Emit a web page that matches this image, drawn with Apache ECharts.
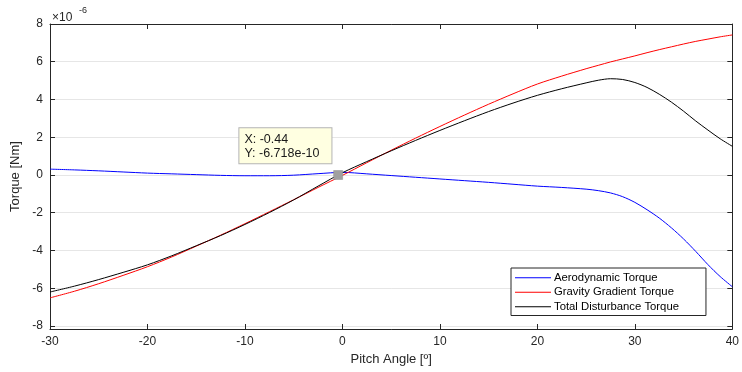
<!DOCTYPE html>
<html><head><meta charset="utf-8">
<script src="https://cdn.jsdelivr.net/npm/echarts@6/dist/echarts.min.js"></script>
<style>html,body{margin:0;padding:0;background:#fff}#c{width:742px;height:372px}</style>
</head><body><div id="c"></div>
<script>
// Pitch angle [deg]
const pitch = [-30,-27.5,-25,-22.5,-20,-17.5,-15,-12.5,-10,-7.5,-5,-2.5,0,2.5,5,7.5,10,12.5,15,17.5,20,22.5,25,26.25,27.5,28.75,30,31.25,32.5,33.75,35,36.25,37.5,38.75,40];
// Torques in units of 1e-6 Nm
const aero = [0.31,0.27,0.22,0.16,0.10,0.06,0.02,-0.02,-0.04,-0.04,-0.01,0.07,0.14,0.06,-0.03,-0.12,-0.21,-0.30,-0.39,-0.49,-0.59,-0.66,-0.75,-0.83,-0.95,-1.15,-1.45,-1.84,-2.28,-2.80,-3.39,-4.05,-4.75,-5.38,-5.92];
const gravity = [-6.51,-6.16,-5.76,-5.32,-4.86,-4.34,-3.77,-3.19,-2.58,-1.95,-1.31,-0.66,-0.02,0.65,1.31,1.95,2.57,3.17,3.75,4.30,4.82,5.24,5.63,5.81,5.99,6.15,6.31,6.48,6.64,6.79,6.94,7.08,7.20,7.32,7.42];
const total = [-6.20,-5.89,-5.54,-5.16,-4.76,-4.28,-3.75,-3.21,-2.62,-1.99,-1.32,-0.59,0.12,0.71,1.28,1.83,2.36,2.87,3.36,3.81,4.22,4.57,4.88,5.02,5.10,5.06,4.90,4.64,4.28,3.86,3.38,2.86,2.38,1.92,1.52];
const seriesNames = ['Aerodynamic Torque','Gravity Gradient Torque','Total Disturbance Torque'];
const yTicks = [-8,-6,-4,-2,0,2,4,6,8];
const xTicks = [-30,-20,-10,0,10,20,30,40];
const tipX = -0.44;
const tipYRaw = -6.718e-10;
const scale = 1e-6;

const FONT = '"Liberation Sans", Helvetica, Arial, sans-serif';
const AX = '#262626';
const pairs = arr => pitch.map((x, i) => [x, arr[i]]);

const chart = echarts.init(document.getElementById('c'), null, {renderer: 'canvas'});

const xBase = {
  type: 'value', min: xTicks[0], max: xTicks[xTicks.length - 1], interval: 10,
  axisLine: {show: true, onZero: false, lineStyle: {color: AX, width: 1}},
  axisTick: {show: true, inside: true, length: 5, lineStyle: {color: AX}},
  splitLine: {show: false}
};
const yBase = {
  type: 'value', min: -8.16, max: 8,
  axisLine: {show: true, onZero: false, lineStyle: {color: AX, width: 1}},
  axisTick: {show: true, inside: true, length: 5, customValues: yTicks, lineStyle: {color: AX}}
};

const lineSeries = (name, arr, color, extra) => Object.assign({
  name, type: 'line', data: pairs(arr), symbol: 'none', smooth: 0.3,
  lineStyle: {color, width: 1}, itemStyle: {color}, animation: false
}, extra || {});

chart.setOption({
  animation: false,
  textStyle: {fontFamily: FONT},
  grid: {left: 50, right: 5, top: 24, bottom: 43, containLabel: false},
  xAxis: [
    Object.assign({}, xBase, {
      position: 'bottom',
      axisLabel: {show: true, color: AX, fontSize: 12, margin: 7, fontFamily: FONT},
      name: 'Pitch Angle [º]', nameLocation: 'middle', nameGap: 20,
      nameTextStyle: {color: AX, fontSize: 13, fontFamily: FONT}
    }),
    Object.assign({}, xBase, {position: 'top', axisLabel: {show: false}})
  ],
  yAxis: [
    Object.assign({}, yBase, {
      position: 'left',
      axisLabel: {show: true, color: AX, fontSize: 12, margin: 7, fontFamily: FONT, customValues: yTicks},
      splitLine: {show: true, lineStyle: {color: '#e6e6e6', width: 1}},
      name: 'Torque [Nm]', nameLocation: 'middle', nameGap: 25, nameRotate: 90,
      nameTextStyle: {color: AX, fontSize: 13, fontFamily: FONT}
    }),
    Object.assign({}, yBase, {position: 'right', axisLabel: {show: false}, splitLine: {show: false}})
  ],
  legend: {
    orient: 'vertical', left: 511, top: 268,
    data: seriesNames.map(n => ({name: n, icon: 'rect'})),
    backgroundColor: '#fff', borderColor: AX, borderWidth: 1,
    padding: [3, 27, 2, 4], itemGap: 1, itemWidth: 36, itemHeight: 1.2,
    textStyle: {color: '#000', fontSize: 11.3, lineHeight: 13.5, fontFamily: FONT, padding: [0, 0, 0, -2]}
  },
  graphic: [
    {type: 'text', left: 52, top: 12, style: {text: '×10', fill: AX, font: '12px ' + FONT}},
    {type: 'text', left: 79, top: 6, style: {text: '-6', fill: AX, font: '9px ' + FONT}}
  ],
  series: [
    lineSeries(seriesNames[0], aero, '#0000ff'),
    lineSeries(seriesNames[1], gravity, '#ff0000'),
    lineSeries(seriesNames[2], total, '#000000', {
      markPoint: {
        z: 10,
        data: [{
          coord: [tipX, tipYRaw / scale],
          symbol: 'rect', symbolSize: 9,
          itemStyle: {color: '#a0a0a0', borderColor: '#8c8c8c', borderWidth: 0.5},
          label: {
            show: true,
            position: [-94, -42],
            formatter: 'X: ' + tipX + '\nY: ' + tipYRaw.toExponential(3),
            color: '#1a1a1a', fontSize: 12.5, lineHeight: 14.5, fontFamily: FONT,
            align: 'left', verticalAlign: 'top',
            backgroundColor: '#ffffe1', borderColor: '#b4b4b4', borderWidth: 1,
            padding: [4, 12, 2, 5]
          }
        }]
      }
    })
  ]
});
</script>
</body></html>
